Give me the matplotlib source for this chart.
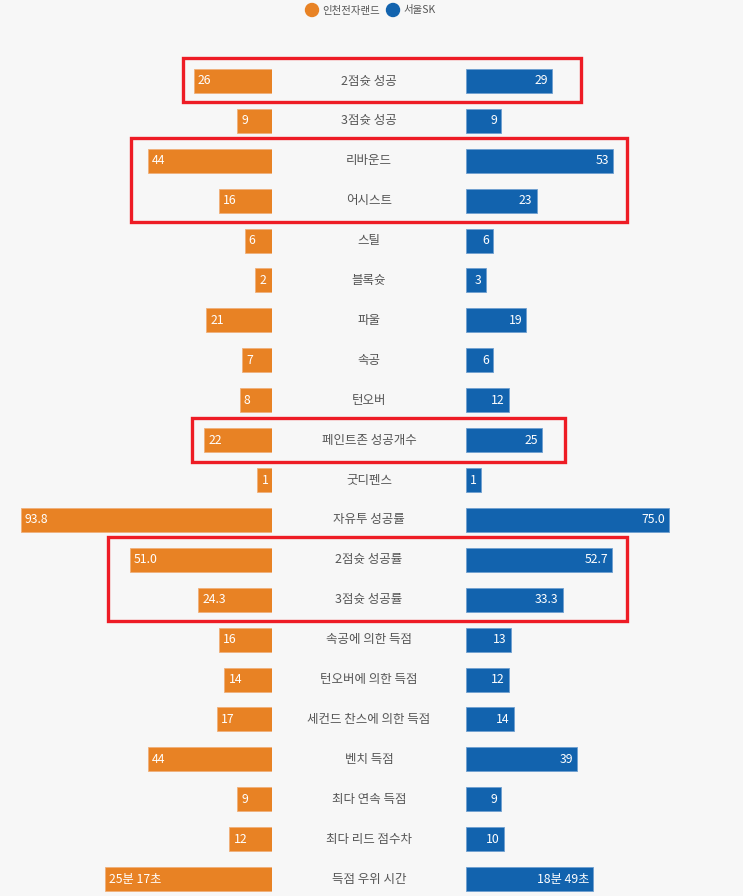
import matplotlib
matplotlib.use("Agg")
import matplotlib.pyplot as plt
from matplotlib.patches import Rectangle, Circle

plt.rcParams['font.family'] = ['Noto Sans CJK KR', 'DejaVu Sans']

# ---------------- data ----------------
categories = ['2점슛 성공', '3점슛 성공', '리바운드', '어시스트', '스틸', '블록슛', '파울',
              '속공', '턴오버', '페인트존 성공개수', '굿디펜스', '자유투 성공률',
              '2점슛 성공률', '3점슛 성공률', '속공에 의한 득점', '턴오버에 의한 득점',
              '세컨드 찬스에 의한 득점', '벤치 득점', '최다 연속 득점', '최다 리드 점수차',
              '득점 우위 시간']
team_left = '인천전자랜드'
team_right = '서울SK'
left_values = [26, 9, 44, 16, 6, 2, 21, 7, 8, 22, 1, 93.8, 51.0, 24.3, 16, 14, 17, 44, 9, 12]
right_values = [29, 9, 53, 23, 6, 3, 19, 6, 12, 25, 1, 75.0, 52.7, 33.3, 13, 12, 14, 39, 9, 10]
left_labels = ['26', '9', '44', '16', '6', '2', '21', '7', '8', '22', '1', '93.8', '51.0', '24.3',
               '16', '14', '17', '44', '9', '12']
right_labels = ['29', '9', '53', '23', '6', '3', '19', '6', '12', '25', '1', '75.0', '52.7', '33.3',
                '13', '12', '14', '39', '9', '10']
# lead time (last row) in seconds
left_time_sec = 25 * 60 + 17
right_time_sec = 18 * 60 + 49
left_time_label = '25분 17초'
right_time_label = '18분 49초'
highlight_rows = [[0], [2, 3], [9], [12, 13]]

# ---------------- style ----------------
W, H, DPI = 743, 896, 100
BG = '#f7f7f7'
ORANGE = '#e88224'
BLUE = '#1263ae'
RED = '#ee1c25'
SCALE = 2.55          # px per unit
PAD = 12 / SCALE      # minimum bar length in units
TIME_DIV = 25.0       # seconds -> bar units for the time row
N = len(categories)
ROW = 39.9
TOP = 81 - ROW / 2    # px
ylim = (N - 0.5 + (H - (81 + (N - 0.5) * ROW)) / ROW, -0.5)

fig = plt.figure(figsize=(W / DPI, H / DPI), dpi=DPI, facecolor=BG)
ax_bottom = 0
ax_h = (H - TOP) / H

axL = fig.add_axes([0, ax_bottom, 272 / W, ax_h])
axR = fig.add_axes([466 / W, ax_bottom, (W - 466) / W, ax_h])
axM = fig.add_axes([272 / W, ax_bottom, (466 - 272) / W, ax_h])
for a in (axL, axR, axM):
    a.set_facecolor('none')
    a.set_ylim(*ylim)
    a.axis('off')
axL.set_xlim(272 / SCALE, 0)
axR.set_xlim(0, (W - 466) / SCALE)
axM.set_xlim(0, 1)

lv = [v + PAD for v in left_values] + [left_time_sec / TIME_DIV + PAD]
rv = [v + PAD for v in right_values] + [right_time_sec / TIME_DIV + PAD]
ll = left_labels + [left_time_label]
rl = right_labels + [right_time_label]
ys = list(range(N))
bh = 24 / ROW

axL.barh(ys, lv, height=bh, color=ORANGE, edgecolor='#f0b07a', linewidth=0.6)
axR.barh(ys, rv, height=bh, color=BLUE, edgecolor='#6f9fd0', linewidth=0.6)

for i in range(N):
    axL.annotate(ll[i], (lv[i], i), xytext=(3, 0), textcoords='offset points',
                 ha='left', va='center', color='white', fontsize=8.8)
    axR.annotate(rl[i], (rv[i], i), xytext=(-3, 0), textcoords='offset points',
                 ha='right', va='center', color='white', fontsize=8.8)
    axM.text(0.5, i, categories[i], ha='center', va='center', color='#555555', fontsize=9)

# highlight boxes (overlay in pixel coordinates)
ov = fig.add_axes([0, 0, 1, 1])
ov.set_xlim(0, W)
ov.set_ylim(H, 0)
ov.axis('off')
ov.set_facecolor('none')
box_x = [(183, 581), (131, 627), (192, 565), (108, 627)]
for rows, (x0, x1) in zip(highlight_rows, box_x):
    y0 = 81 + rows[0] * ROW - 22.5
    y1 = 81 + rows[-1] * ROW + 21.5
    ov.add_patch(Rectangle((x0, y0), x1 - x0, y1 - y0, fill=False, edgecolor=RED, linewidth=2.4))

# legend
ov.add_patch(Circle((312, 10), 6.5, color=ORANGE))
ov.text(322, 10.5, team_left, ha='left', va='center', fontsize=7.5, color='#555555')
ov.add_patch(Circle((393, 10), 6.5, color=BLUE))
ov.text(403, 10.5, team_right, ha='left', va='center', fontsize=7.5, color='#555555')

fig.savefig('out.png', dpi=DPI, facecolor=BG)
